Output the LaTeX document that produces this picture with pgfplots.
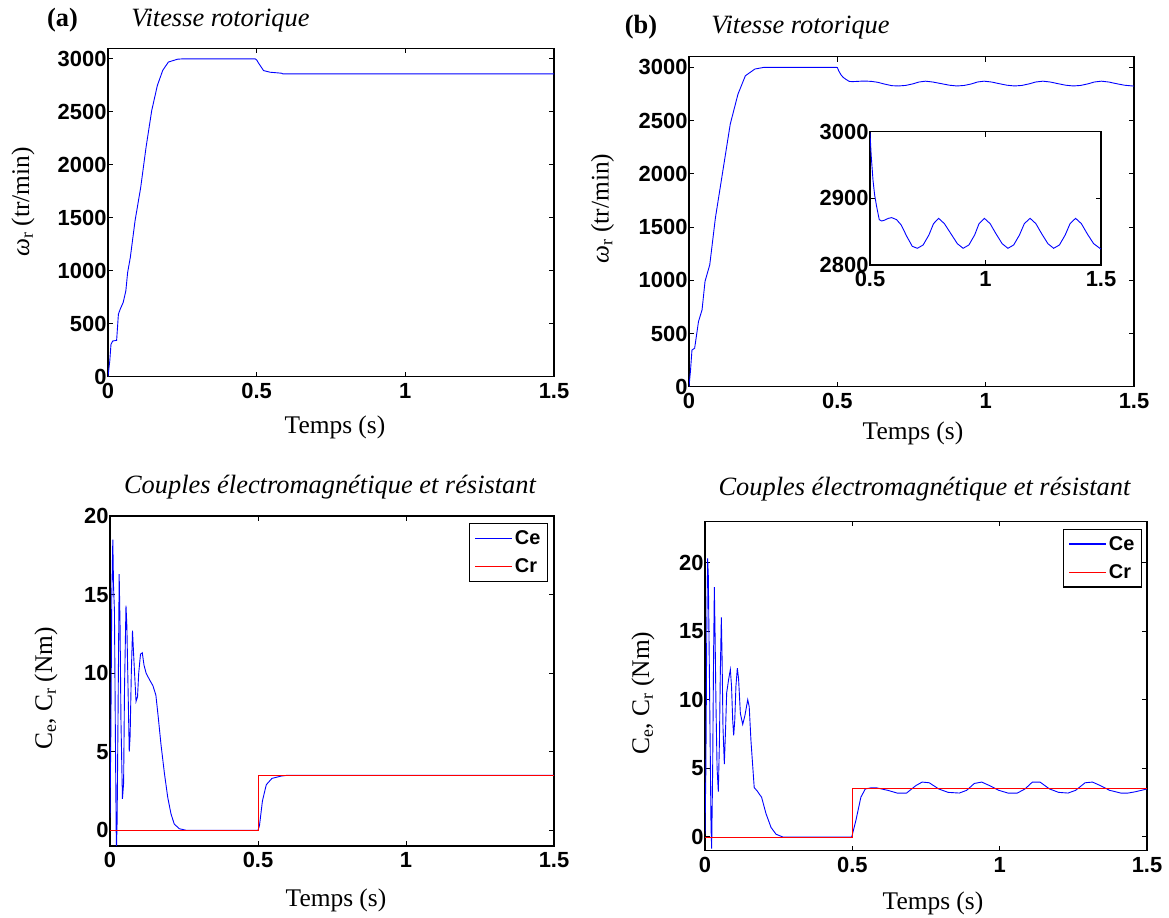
\documentclass[border=0pt]{standalone}
\usepackage{fontspec}
\setmainfont{Liberation Serif}
\setsansfont{Liberation Sans}
\usepackage{pgfplots}
\usepackage{pgfplotstable}
\pgfplotsset{compat=1.18}

\pgfplotstableread{
t w
0 0
0.005 150
0.01 345
0.019 361
0.032 612
0.044 722
0.054 989
0.07 1146
0.089 1586
0.114 2026
0.139 2466
0.165 2748
0.19 2921
0.222 2984
0.253 3000
0.497 3000
0.5 2998
0.505 2965
0.513 2927
0.52 2905
0.529 2887
0.54 2868
0.55 2866
0.561 2867
0.58 2870
0.594 2871
0.615 2868
0.635 2860
0.659 2843
0.683 2828
0.705 2825
0.73 2830
0.755 2845
0.775 2862
0.797 2870
0.822 2862
0.85 2847
0.878 2832
0.903 2825
0.928 2830
0.953 2845
0.972 2862
0.995 2870
1.02 2862
1.045 2847
1.072 2832
1.097 2825
1.122 2830
1.147 2845
1.168 2862
1.193 2870
1.218 2862
1.243 2847
1.27 2832
1.295 2825
1.32 2830
1.345 2845
1.366 2862
1.39 2870
1.415 2862
1.44 2847
1.468 2832
1.495 2825
1.5 2824
}\speedb

\pgfplotsset{
  mat/.style={
    scale only axis,
    axis line style={line width=1.3bp},
    every tick/.style={black, line width=1bp},
    major tick length=5bp,
    tick align=inside,
    tick label style={font=\fontsize{22}{22}\selectfont\sffamily\bfseries},
    xticklabel style={yshift=-3bp},
    yticklabel style={xshift=2bp},
    /pgf/number format/assume math mode=true,
    /pgf/number format/1000 sep={},
    scaled ticks=false,
    axis background/.style={fill=white},
    xmin=0, xmax=1.5,
    xtick={0,0.5,1,1.5},
    legend cell align=left,
    legend image code/.code={\draw[##1, line width=1.3bp] (0bp,0bp) -- (37bp,0bp);},
    legend style={draw=black, line width=1.3bp, font=\fontsize{20}{20}\selectfont\sffamily\bfseries,
      inner xsep=5bp, inner ysep=5bp, row sep=9bp,
      nodes={inner sep=2bp}},
  },
  bl/.style={color=blue, line width=0.9bp},
  rd/.style={color=red, line width=0.9bp},
}

\begin{document}
\begin{tikzpicture}
\useasboundingbox (0,0) rectangle (1169bp,918bp);

% ---------- (a) speed ----------
\begin{axis}[mat, at={(108bp,541.3bp)}, anchor=south west,
  width=446bp, height=328.4bp,
  ymin=0, ymax=3100, ytick={0,500,1000,1500,2000,2500,3000}]
\addplot[bl] coordinates {
(0,0) (0.006,150) (0.01,305) (0.016,337) (0.029,343) (0.035,590) (0.041,637)
(0.051,700) (0.06,810) (0.066,983) (0.075,1125) (0.091,1472) (0.11,1787)
(0.128,2166) (0.147,2512) (0.166,2749) (0.184,2891) (0.203,2970) (0.234,2997)
(0.25,3000) (0.495,3000) (0.5,2990) (0.508,2953) (0.523,2890) (0.545,2874)
(0.583,2865) (0.589,2858) (1.5,2858)};
\end{axis}

% ---------- (b) speed ----------
\begin{axis}[mat, at={(689bp,531.3bp)}, anchor=south west,
  width=445bp, height=330bp,
  ymin=0, ymax=3100, ytick={0,500,1000,1500,2000,2500,3000}]
\addplot[bl] table[x=t,y=w] {\speedb};
\end{axis}

% ---------- (b) inset ----------
\begin{axis}[mat, at={(870bp,653bp)}, anchor=south west,
  width=231bp, height=133.3bp,
  xmin=0.5, xmax=1.5, xtick={0.5,1,1.5},
  ymin=2800, ymax=3000, ytick={2800,2900,3000}]
\addplot[bl] table[x=t,y=w] {\speedb};
\end{axis}

% ---------- (a) torque ----------
\begin{axis}[mat, at={(110bp,72bp)}, anchor=south west,
  width=444bp, height=330bp,
  ymin=-1, ymax=20, ytick={0,5,10,15,20},
  legend style={at={(0.9865,0.9788)}, anchor=north east}]
\addplot[bl] coordinates {
(0,0.8) (0.003,6.5) (0.006,14.8) (0.0095,18.5) (0.012,15.5) (0.015,14)
(0.018,6.5) (0.0215,-1.4) (0.024,0.5) (0.027,7) (0.031,16.3) (0.034,13)
(0.037,7) (0.042,2) (0.046,3) (0.049,9) (0.054,14.3) (0.057,13) (0.06,10)
(0.065,5) (0.068,6) (0.072,10) (0.076,12.7) (0.079,11.5) (0.083,10)
(0.088,8.2) (0.093,8.5) (0.097,10) (0.103,11.2) (0.109,11.3) (0.115,10.5)
(0.122,10.0) (0.133,9.6) (0.145,9.2) (0.155,8.6) (0.163,7.2) (0.172,5.5)
(0.184,3.6) (0.195,2.1) (0.206,1.05) (0.217,0.4) (0.234,0.1) (0.257,0)
(0.5,0) (0.505,0.3) (0.515,1.87) (0.528,2.9) (0.547,3.3) (0.578,3.45)
(0.6,3.5) (1.5,3.5)};
\addlegendentry{Ce}
\addplot[rd] coordinates {(0,0) (0.5,0) (0.5,3.5) (1.5,3.5)};
\addlegendentry{Cr}
\end{axis}

% ---------- (b) torque ----------
\begin{axis}[mat, at={(705bp,67.3bp)}, anchor=south west,
  width=442bp, height=329.4bp,
  ymin=-1, ymax=23, ytick={0,5,10,15,20},
  legend style={at={(0.9887,0.9780)}, anchor=north east}]
\addplot[bl] coordinates {
(0,0.2) (0.003,5) (0.006,15) (0.009,20.3) (0.0113,19) (0.0147,12.3)
(0.018,5.8) (0.0204,0.7) (0.0226,-0.85) (0.026,5) (0.029,13) (0.0317,18.2)
(0.034,15) (0.0373,9.5) (0.041,5) (0.0452,3.3) (0.049,7) (0.052,12)
(0.0554,16) (0.058,13) (0.061,8) (0.0656,5.3) (0.07,8) (0.0735,10.5)
(0.0803,11.5) (0.086,12.2) (0.09,11) (0.094,8.5) (0.0973,7.4) (0.101,8.5)
(0.105,11) (0.1097,12.3) (0.114,11.5) (0.12,9) (0.128,8.2) (0.135,8.8)
(0.145,10) (0.15,9.5) (0.156,7) (0.167,3.6) (0.179,3.3) (0.185,3.1)
(0.192,2.9) (0.207,1.7) (0.224,0.7) (0.241,0.2) (0.264,0) (0.498,0)
(0.512,1.2) (0.529,2.9) (0.544,3.5) (0.563,3.58) (0.582,3.58) (0.62,3.4)
(0.652,3.2) (0.684,3.2) (0.716,3.75) (0.737,4.0) (0.761,3.95) (0.793,3.5)
(0.825,3.25) (0.863,3.2) (0.888,3.4) (0.914,3.9) (0.939,4.0) (0.965,3.75)
(0.997,3.4) (1.028,3.2) (1.06,3.2) (1.086,3.5) (1.111,4.0) (1.137,4.0)
(1.169,3.5) (1.2,3.25) (1.232,3.2) (1.258,3.4) (1.29,3.95) (1.315,4.0)
(1.341,3.75) (1.373,3.4) (1.411,3.2) (1.436,3.2) (1.462,3.3) (1.5,3.5)};
\addlegendentry{Ce}
\addplot[rd] coordinates {(0,0) (0.5,0) (0.5,3.5) (1.5,3.5)};
\addlegendentry{Cr}
\end{axis}

% ---------- titles and labels ----------
\tikzset{ttl/.style={font=\fontsize{26.5}{30}\selectfont\itshape, anchor=base, inner sep=0pt},
         lab/.style={font=\fontsize{25.5}{30}\selectfont, anchor=center, inner sep=0pt}}
\node[font=\fontsize{26.5}{30}\selectfont\bfseries, anchor=base, inner sep=0pt] at (62.5bp,891.3bp) {(a)};
\node[ttl] at (220.5bp,891.3bp) {Vitesse rotorique};
\node[font=\fontsize{26.5}{30}\selectfont\bfseries, anchor=base, inner sep=0pt] at (641bp,884.7bp) {(b)};
\node[ttl] at (800.5bp,884.7bp) {Vitesse rotorique};
\node[ttl] at (330bp,424bp) {Couples électromagnétique et résistant};
\node[ttl] at (924.5bp,422bp) {Couples électromagnétique et résistant};

\node[lab] at (335bp,491bp) {Temps (s)};
\node[lab] at (913bp,485bp) {Temps (s)};
\node[lab] at (336bp,18bp) {Temps (s)};
\node[lab] at (933bp,15bp) {Temps (s)};

\node[lab, rotate=90] at (23bp,716bp) {{\itshape ω}\textsubscript{r} (tr/min)};
\node[lab, rotate=90] at (602.5bp,709.5bp) {{\itshape ω}\textsubscript{r} (tr/min)};
\node[lab, rotate=90] at (46bp,229.5bp) {C\textsubscript{e}, C\textsubscript{r} (Nm)};
\node[lab, rotate=90] at (643bp,225bp) {C\textsubscript{e}, C\textsubscript{r} (Nm)};
\end{tikzpicture}
\end{document}
